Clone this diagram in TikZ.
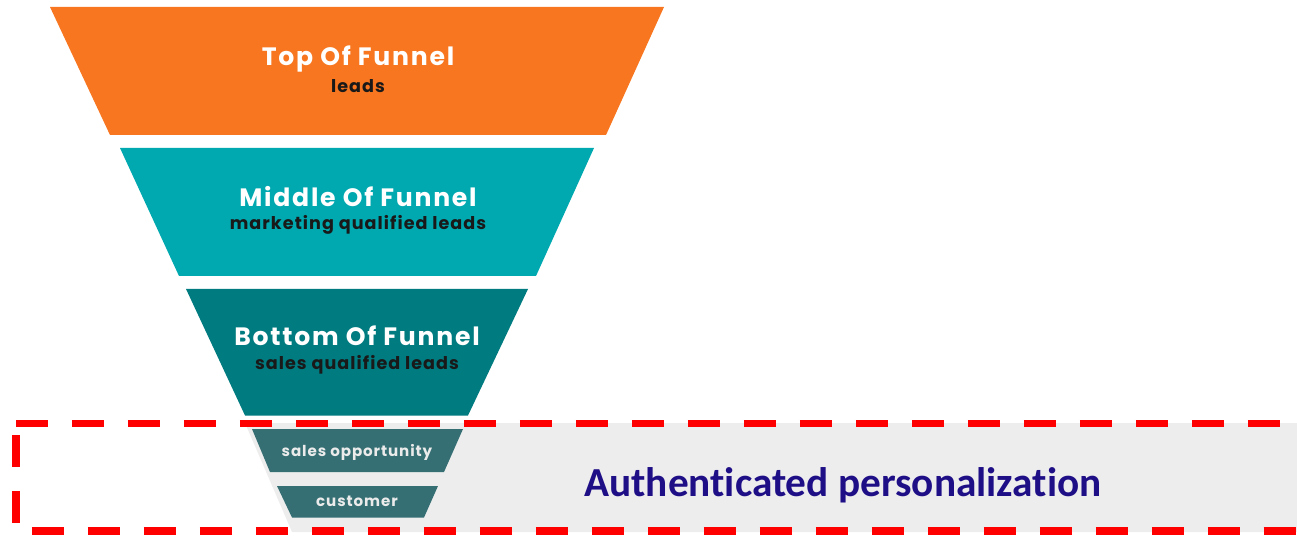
\documentclass[tikz,border=0pt]{standalone}
\usepackage{fontspec}
\setmainfont{Poppins}
\newfontfamily\headfont[LetterSpace=7]{Poppins}
\newfontfamily\subfont[LetterSpace=6]{Poppins}
\newfontfamily\carlito[Ligatures=NoCommon]{Carlito}
\usepackage{tikz}
\usepackage{xcolor}

\definecolor{topfun}{RGB}{247,118,31}
\definecolor{midfun}{RGB}{0,168,176}
\definecolor{botfun}{RGB}{0,123,128}
\definecolor{smallfun}{RGB}{53,111,115}
\definecolor{bandgray}{RGB}{237,237,237}
\definecolor{authblue}{RGB}{31,15,135}
\definecolor{dashred}{RGB}{255,0,0}

\tikzset{
	head/.style={anchor=base, text=white, font=\headfont\bfseries\fontsize{14.3}{16}\selectfont, inner sep=0pt},
	sub/.style={anchor=base, text=black!90, font=\subfont\bfseries\fontsize{10}{12}\selectfont, inner sep=0pt},
	smalltext/.style={anchor=base, text=white!92!black, font=\subfont\bfseries\fontsize{8.6}{10}\selectfont, inner sep=0pt},
	reddash/.style={draw=dashred, line width=4.5pt, dash pattern=on 0.64cm off 0.48cm}
}

\begin{document}
\begin{tikzpicture}[x=0.02cm, y=-0.02cm]
		\useasboundingbox (0,0) rectangle (1297,536);
		\clip (0,0) rectangle (1297,536);
		
		\fill[bandgray] (245,423) -- (1297,423) -- (1297,532) -- (292,532) -- cycle;
		
		\fill[topfun] (50,7) -- (664,7) -- (606,135) -- (110,135) -- cycle;
		
		\fill[midfun] (120,148) -- (594,148) -- (536,276) -- (179,276) -- cycle;
		
		\fill[botfun] (186,289) -- (528,289) -- (468,415.5) -- (245,415.5) -- cycle;
		
		\fill[smallfun] (252,429) -- (463,429) -- (444,472) -- (270,472) -- cycle;
		
		\fill[smallfun] (277,486) -- (438,486) -- (424,517.5) -- (292,517.5) -- cycle;
		
		% red frame round the band
		\draw[reddash] (16,423.5) -- (1310,423.5);
		\draw[reddash] (16,435) -- (16,531) -- (1310,531);
		
		\node[head] (tophead) at (358,66) {Top Of Funnel};
		\node[sub] (topsub) at (358,92.5) {leads};
		
		\node[head] (midhead) at (358,206.5) {Middle Of Funnel};
		\node[sub] (midsub) at (358,230) {marketing qualified leads};
		
		\node[head] (bothead) at (357,346) {Bottom Of Funnel};
		\node[sub] (botsub) at (357,370) {sales qualified leads};
		
		\node[smalltext] (opp) at (357,456) {sales opportunity};
		\node[smalltext] (cust) at (357,506) {customer};
		
		\node[anchor=base west, inner sep=0pt, text=authblue, font=\carlito\bfseries\fontsize{23.5}{28}\selectfont] (auth) at (584,496.5) {Authenticated personalization};
	\end{tikzpicture}
\end{document}
